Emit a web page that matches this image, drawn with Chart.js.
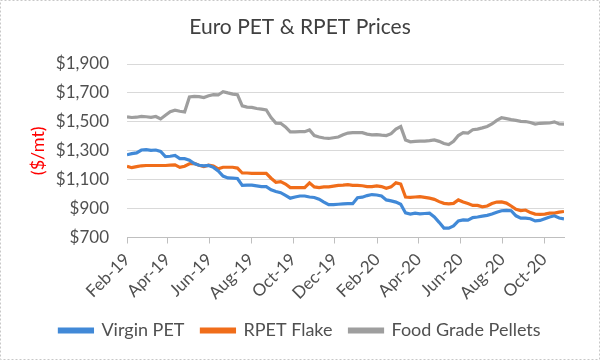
<!DOCTYPE html>
<html><head><meta charset="utf-8">
<script src="https://cdn.jsdelivr.net/npm/chart.js@4.4.1/dist/chart.umd.min.js"></script>
<style>html,body{margin:0;padding:0;background:#fff}canvas{display:block}</style>
</head><body><canvas id="c" width="600" height="360"></canvas>
<script>
// Weekly price series, first week 2019-02-01
const startDate = '2019-02-01';
const weekStep = 7;
const seriesNames = ['Virgin PET', 'RPET Flake', 'Food Grade Pellets'];
const tickLabels = ['Feb-19','Apr-19','Jun-19','Aug-19','Oct-19','Dec-19','Feb-20','Apr-20','Jun-20','Aug-20','Oct-20'];
const tickDates = ['2019-02-01','2019-04-01','2019-06-01','2019-08-01','2019-10-01','2019-12-01','2020-02-01','2020-04-01','2020-06-01','2020-08-01','2020-10-01'];
const yTicks = [700, 900, 1100, 1300, 1500, 1700, 1900];

const virginPET = [1272,1280,1285,1305,1308,1303,1305,1295,1260,1262,1267,1245,1245,1235,1212,1200,1195,1198,1185,1160,
  1125,1112,1110,1108,1060,1062,1062,1057,1052,1052,1030,1018,1010,992,972,980,987,987,980,977,
  965,945,927,927,930,933,934,934,975,979,990,997,994,987,960,953,945,930,870,862,
  868,864,866,868,842,805,765,765,780,815,822,820,838,842,848,853,862,875,885,888,
  885,850,834,834,830,815,818,830,842,850,835,829];
const rpetFlake = [1193,1183,1190,1196,1198,1198,1198,1198,1198,1200,1202,1185,1193,1210,1212,1200,1190,1200,1195,1175,
  1186,1186,1186,1180,1146,1146,1144,1144,1144,1144,1110,1082,1087,1070,1045,1045,1045,1045,1078,1050,
  1045,1050,1050,1055,1060,1062,1065,1061,1060,1058,1052,1052,1057,1052,1040,1050,1078,1070,980,978,
  980,982,978,972,964,948,936,932,936,960,946,935,922,922,912,918,935,945,946,938,
  918,895,886,890,872,862,860,862,868,869,875,880];
const foodGrade = [1535,1530,1532,1538,1535,1531,1537,1520,1545,1570,1580,1573,1568,1672,1676,1674,1668,1680,1688,1686,
  1709,1700,1692,1688,1610,1602,1600,1592,1588,1582,1530,1491,1490,1465,1430,1430,1432,1432,1444,1405,
  1395,1388,1385,1390,1395,1410,1422,1425,1425,1425,1415,1410,1412,1408,1405,1418,1450,1467,1375,1362,
  1365,1367,1367,1370,1375,1365,1350,1343,1365,1405,1425,1422,1445,1450,1458,1468,1485,1510,1528,1522,
  1515,1510,1503,1502,1495,1485,1490,1491,1492,1500,1485,1484];

const colors = ['#4189d7', '#f06d1a', '#9e9e9e'];
const dayOf = d => Math.round((new Date(d) - new Date(startDate)) / 86400000);
const toPoints = arr => arr.map((v, i) => ({x: i * weekStep, y: v}));
const tickDays = tickDates.map(dayOf);
const lastDay = (virginPET.length - 1) * weekStep;

const borderPlugin = {
  id: 'frame',
  afterDraw(chart) {
    const ctx = chart.ctx;
    ctx.save();
    ctx.strokeStyle = '#c8c8c8';
    ctx.setLineDash([2, 2]);
    ctx.lineWidth = 1;
    ctx.strokeRect(0.5, 0.5, chart.width - 1, chart.height - 1);
    ctx.restore();
  }
};

const FONT = 'Lato, "Liberation Sans", sans-serif';
new Chart(document.getElementById('c'), {
  type: 'line',
  data: {
    datasets: [
      {label: seriesNames[0], data: toPoints(virginPET), borderColor: colors[0], backgroundColor: colors[0]},
      {label: seriesNames[1], data: toPoints(rpetFlake), borderColor: colors[1], backgroundColor: colors[1]},
      {label: seriesNames[2], data: toPoints(foodGrade), borderColor: colors[2], backgroundColor: colors[2]}
    ]
  },
  options: {
    responsive: false,
    animation: false,
    devicePixelRatio: 1,
    elements: {line: {borderWidth: 3.2, tension: 0}, point: {radius: 0}},
    layout: {padding: {left: 0, right: 0, top: 0, bottom: 10.5}},
    plugins: {
      title: {display: true, text: 'Euro PET & RPET Prices', color: '#404040',
        font: {family: FONT, size: 21, weight: 'normal'}, padding: {top: 15, bottom: 23.8}},
      legend: {position: 'bottom',
        labels: {color: '#505050', font: {family: FONT, size: 18}, boxWidth: 33, boxHeight: 3, padding: 17}},
      tooltip: {enabled: false}
    },
    scales: {
      x: {
        type: 'linear', min: 0, max: lastDay,
        afterBuildTicks: s => { s.ticks = tickDays.map(v => ({value: v})); },
        afterFit: s => { s.height = 67; },
        ticks: {autoSkip: false, minRotation: 45, maxRotation: 45, color: '#505050', padding: 6,
          font: {family: FONT, size: 17},
          callback: (v, i) => tickLabels[i]},
        grid: {drawOnChartArea: false, tickLength: 6, color: '#bfbfbf'},
        border: {color: '#bfbfbf'}
      },
      y: {
        min: yTicks[0], max: yTicks[yTicks.length - 1],
        afterBuildTicks: s => { s.ticks = yTicks.map(v => ({value: v})); },
        afterFit: s => { s.width = 127; },
        ticks: {color: '#505050', padding: 18, font: {family: FONT, size: 17},
          callback: v => '$' + v.toLocaleString('en-US')},
        grid: {color: '#d9d9d9', drawTicks: false},
        border: {display: false},
        title: {display: true, text: '($/mt)', color: '#ff0000',
          font: {family: FONT, size: 18}, padding: {top: 27, bottom: 0}}
      },
      yRight: {
        position: 'right', min: yTicks[0], max: yTicks[yTicks.length - 1],
        afterFit: s => { s.width = 36; },
        ticks: {display: false}, grid: {display: false}, border: {display: false}
      }
    }
  },
  plugins: [borderPlugin]
});
</script>
</body></html>
